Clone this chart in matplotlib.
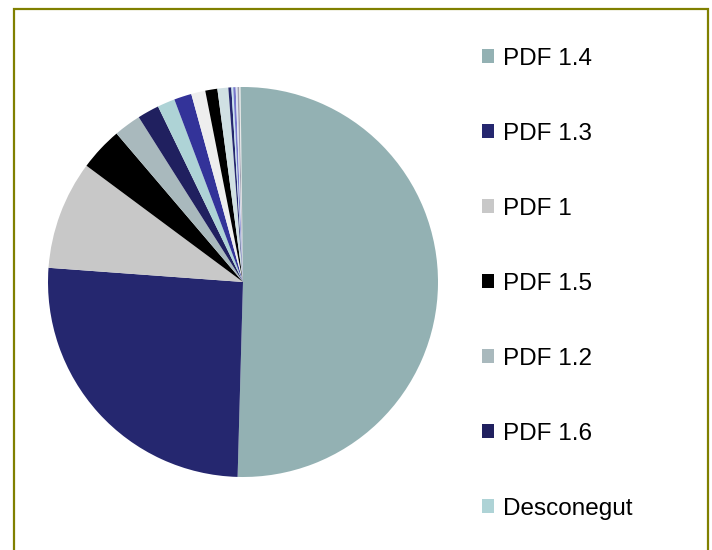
import matplotlib
matplotlib.use('Agg')
from matplotlib import pyplot as plt
from matplotlib.patches import Rectangle

# PDF version shares (%)
labels = ['PDF 1.4', 'PDF 1.3', 'PDF 1', 'PDF 1.5', 'PDF 1.2', 'PDF 1.6', 'Desconegut']
values = [50.4, 25.7, 9.0, 3.6, 2.25, 1.8, 1.45]
colors = ['#93b1b3', '#25276f', '#c8c8c8', '#000000', '#a9b9bd', '#20205f', '#aed3d6']

# smaller slices whose legend entries fall outside the visible frame
extra_values = [1.45, 1.17, 1.0, 0.9, 0.25, 0.15, 0.2, 0.15, 0.15, 0.1, 0.2]
extra_colors = ['#333399', '#eeeeee', '#000000', '#d0e0e3', '#25276f', '#c8e4ee',
                '#7777cc', '#dde3f0', '#a0a0b0', '#e8e8e8', '#93b1b3']

plt.rcParams['font.family'] = ['Liberation Sans', 'DejaVu Sans']

fig = plt.figure(figsize=(7.12, 5.5), dpi=100)

# olive frame round the chart
fig.patches.append(Rectangle((14 / 712, -0.05), 694 / 712, 1.05 - 9 / 550,
                             transform=fig.transFigure, fill=False,
                             edgecolor='#808000', linewidth=1.6))

cx, cy, r = 243, 282, 195
ax = fig.add_axes([(cx - r) / 712, (550 - cy - r) / 550, 2 * r / 712, 2 * r / 550])
wedges, _ = ax.pie(values + extra_values, colors=colors + extra_colors,
                   startangle=90, counterclock=False, radius=1,
                   wedgeprops={'linewidth': 0})
ax.set_xlim(-1, 1)
ax.set_ylim(-1, 1)
ax.axis('off')

fig.legend(wedges[:len(labels)], labels, loc='upper left',
           bbox_to_anchor=(472 / 712, 1 - 38 / 550), frameon=False,
           fontsize=17.5, labelspacing=2.18, handlelength=0.52,
           handleheight=0.52, handletextpad=0.34, borderaxespad=0)

plt.savefig('out.png', dpi=100)
